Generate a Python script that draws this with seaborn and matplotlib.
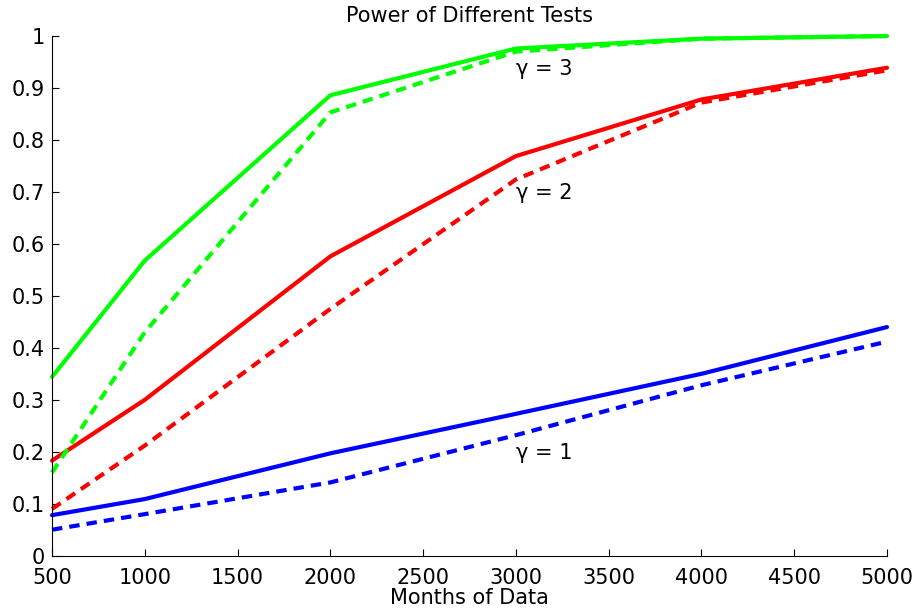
import matplotlib
matplotlib.use("Agg")
import matplotlib.pyplot as plt
import seaborn as sns
import pandas as pd

# Months of data at which power was evaluated
months = [500, 1000, 2000, 3000, 4000, 5000]

# Power for each gamma: solid = first test, dashed = second test
g1_solid = [0.078, 0.109, 0.197, 0.273, 0.350, 0.440]
g1_dashed = [0.050, 0.080, 0.141, 0.232, 0.328, 0.412]
g2_solid = [0.183, 0.300, 0.576, 0.769, 0.878, 0.939]
g2_dashed = [0.090, 0.212, 0.475, 0.724, 0.872, 0.934]
g3_solid = [0.344, 0.568, 0.886, 0.976, 0.995, 1.000]
g3_dashed = [0.160, 0.430, 0.853, 0.970, 0.995, 1.000]

x_ticks = [500, 1000, 1500, 2000, 2500, 3000, 3500, 4000, 4500, 5000]
y_ticks = [0, 0.1, 0.2, 0.3, 0.4, 0.5, 0.6, 0.7, 0.8, 0.9, 1]
y_tick_labels = ["0", "0.1", "0.2", "0.3", "0.4", "0.5", "0.6", "0.7", "0.8", "0.9", "1"]

labels = ["γ = 1", "γ = 2", "γ = 3"]
label_pos = [(3000, 0.198), (3000, 0.698), (3000, 0.937)]

sns.set_theme(style="white")
plt.rcParams["font.family"] = ["DejaVu Sans"]

FS = 15

fig = plt.figure(figsize=(9.19, 6.11), dpi=100)
ax = fig.add_axes([0.0566, 0.0905, 0.9086, 0.8505])

series = [
    (g1_solid, "#0000ff", "-"),
    (g1_dashed, "#0000ff", "--"),
    (g2_solid, "#ff0000", "-"),
    (g2_dashed, "#ff0000", "--"),
    (g3_solid, "#00ff00", "-"),
    (g3_dashed, "#00ff00", "--"),
]

for vals, color, ls in series:
    df = pd.DataFrame({"months": months, "power": vals})
    line_ax = sns.lineplot(data=df, x="months", y="power", ax=ax, color=color,
                           linewidth=3.0, legend=False)
    line = line_ax.lines[-1]
    line.set_clip_on(False)
    if ls == "--":
        line.set_dashes((2.5, 1.7))

for text, (lx, ly) in zip(labels, label_pos):
    ax.text(lx, ly, text, fontsize=FS, color="black", ha="left", va="center")

ax.set_xlim(500, 5000)
ax.set_ylim(0, 1)
ax.set_xticks(x_ticks)
ax.set_xticklabels([str(t) for t in x_ticks])
ax.set_yticks(y_ticks)
ax.set_yticklabels(y_tick_labels)
ax.tick_params(direction="in", length=5, width=0.8, labelsize=FS, color="black",
               labelcolor="black", bottom=True, left=True, pad=5)
ax.tick_params(axis="x", pad=9)
for side in ["top", "right"]:
    ax.spines[side].set_visible(False)
for side in ["left", "bottom"]:
    ax.spines[side].set_color("black")
    ax.spines[side].set_linewidth(0.8)

ax.set_xlabel("Months of Data", fontsize=FS, color="black", labelpad=0)
ax.set_ylabel("")
ax.set_title("Power of Different Tests", fontsize=FS, color="black", pad=10)

fig.savefig("out.png", dpi=100, facecolor="white")
